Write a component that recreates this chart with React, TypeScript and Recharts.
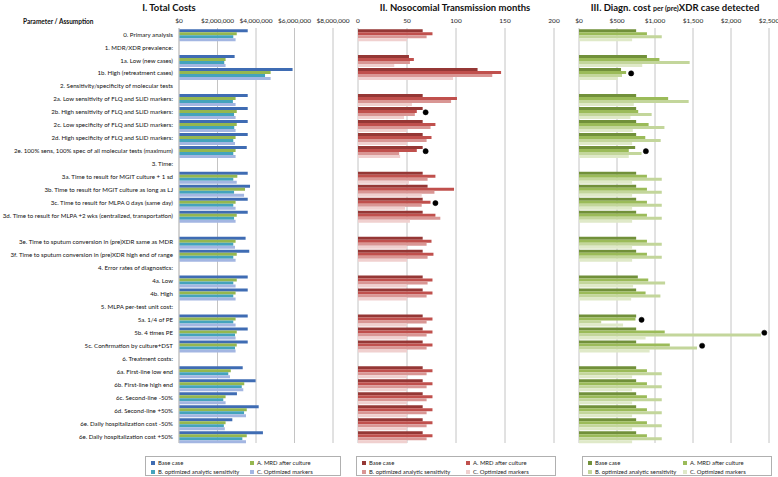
import React from 'react';
import {
  Bar,
  CartesianGrid,
  ComposedChart,
  Line,
  XAxis,
  YAxis} from 'recharts';

const rowLabels = [
  '0. Primary analysis',
  '1. MDR/XDR  prevalence:',
  '1a. Low (new cases)',
  '1b. High (retreatment cases)',
  '2. Sensitivity/specificity of molecular tests',
  '2a. Low sensitivity of FLQ and SLID markers:',
  '2b. High sensitivity of FLQ and SLID markers:',
  '2c. Low specificity of FLQ and SLID markers:',
  '2d. High specificity of FLQ and SLID markers:',
  '2e. 100% sens, 100% spec of all molecular tests (maximum)',
  '3. Time:',
  '3a. Time to result for MGIT culture + 1 sd',
  '3b. Time to result for MGIT culture as long as LJ',
  '3c. Time to result for MLPA 0 days (same day)',
  '3d. Time to result for MLPA +2 wks (centralized, transportation)',
  '',
  '3e. Time to sputum conversion in (pre)XDR same as MDR',
  '3f. Time to sputum conversion in (pre)XDR high end of range',
  '4. Error rates of diagnostics:',
  '4a. Low',
  '4b. High',
  '5. MLPA per-test unit cost:',
  '5a. 1/4 of PE',
  '5b. 4 times PE',
  '5c. Confirmation by culture+DST',
  '6. Treatment costs:',
  '6a. First-line low end',
  '6b. First-line high end',
  '6c. Second-line  -50%',
  '6d. Second-line  +50%',
  '6e. Daily hospitalization cost -50%',
  '6e. Daily hospitalization cost +50%',
];

const seriesNames = [
  'Base case',
  'A. MRD after culture',
  'B. optimized analytic sensitivity',
  'C. Optimized markers',
];

// I. Total costs ($)
const costBase = [3570000, null, 2890000, 5900000, null, 3570000, 3570000, 3570000, 3570000, 3520000, null, 3570000, 3690000, 3570000, 3570000, null, 3460000, 3650000, null, 3570000, 3570000, null, 3570000, 3570000, 3570000, null, 3310000, 3980000, 3010000, 4140000, 2770000, 4360000];
const costA = [3000000, null, 2420000, 4760000, null, 2940000, 3000000, 3000000, 2940000, 2940000, null, 3030000, 3430000, 2940000, 3000000, null, 2940000, 3000000, null, 3000000, 2940000, null, 2940000, 3000000, 3000000, null, 2690000, 3390000, 2420000, 3520000, 2420000, 3520000];
const costB = [2820000, null, 2350000, 4470000, null, 2800000, 2860000, 2870000, 2820000, 2820000, null, 2820000, 2860000, 2820000, 2860000, null, 2820000, 2820000, null, 2820000, 2820000, null, 2820000, 2910000, 2910000, null, 2560000, 3260000, 2300000, 3380000, 2330000, 3290000];
const costC = [2940000, null, 2420000, 4760000, null, 2940000, 2940000, 2940000, 2910000, 2940000, null, 3000000, 3380000, 2940000, 2940000, null, 2910000, 2940000, null, 2940000, 2940000, null, 2940000, 2940000, 2940000, null, 2650000, 3340000, 2420000, 3480000, 2380000, 3480000];

// II. Nosocomial transmission months
const nosoBase = [66, null, 52, 122, null, 66, 66, 66, 66, 66, null, 66, 71, 66, 66, null, 66, 66, null, 66, 66, null, 66, 66, 66, null, 66, 66, 66, 66, 66, 66];
const nosoA = [76, null, 57, 146, null, 101, 60, 79, 75, 60, null, 79, 98, 74, 79, null, 75, 77, null, 76, 76, null, 76, 76, 76, null, 76, 76, 76, 76, 76, 76];
const nosoB = [70, null, 53, 137, null, 95, 58, 74, 70, 42, null, 71, 78, 65, 84, null, 70, 71, null, 71, 70, null, 70, 70, 70, null, 70, 70, 70, 70, 70, 70];
const nosoC = [50, null, 37, 97, null, 55, 47, 50, 50, 43, null, 52, 65, 48, 53, null, 50, 50, null, 50, 50, null, 50, 50, 50, null, 50, 50, 50, 50, 50, 50];
const nosoDot = [null, null, null, null, null, null, 69, null, null, 69, null, null, null, 79, null, null, null, null, null, null, null, null, null, null, null, null, null, null, null, null, null, null];

// III. Diagnostic cost per (pre)XDR case detected ($)
const diagBase = [752, null, 894, 553, null, 752, 752, 752, 752, 739, null, 752, 752, 752, 752, null, 752, 752, null, 774, 752, null, 752, 752, 752, null, 752, 752, 752, 752, 752, 752];
const diagA = [894, null, 1058, 620, null, 1173, 779, 916, 872, 655, null, 894, 894, 894, 894, null, 894, 894, null, 911, 876, null, 743, 1128, 1195, null, 894, 894, 894, 894, 894, 894];
const diagB = [1089, null, 1456, 566, null, 1443, 956, 1124, 1075, 823, null, 1089, 1089, 1089, 1089, null, 1089, 1089, null, 1133, 1071, null, 292, 2394, 1553, null, 1089, 1089, 1089, 1089, 1089, 1089];
const diagC = [699, null, 832, 509, null, 721, 677, 708, 699, 655, null, 699, 699, 699, 699, null, 699, 699, null, 712, 686, null, 580, 876, 929, null, 699, 699, 699, 699, 699, 699];
const diagDot = [null, null, null, 686, null, null, null, null, null, 880, null, null, null, null, null, null, null, null, null, null, null, null, 823, 2438, 1620, null, null, null, null, null, null, null];

const costTicks = [0, 2000000, 4000000, 6000000, 8000000];
const nosoTicks = [0, 50, 100, 150, 200];
const diagTicks = [0, 500, 1000, 1500, 2000, 2500];

const FONT = 'Lato, "Liberation Sans", sans-serif';
const GRID = '#c4c4c4';

const makeRows = (s: (number | null)[][], dots?: (number | null)[]) =>
  rowLabels.map((label, i) => ({
    label,
    s0: s[0][i],
    s1: s[1][i],
    s2: s[2][i],
    s3: s[3][i],
    dot: dots ? dots[i] : null,
  }));

const dollars = (v: number) => '$' + v.toLocaleString('en-US');

// plain single-line row label (recharts would wrap it otherwise)
const RowTick = (props: any) => {
  const { x, y, payload } = props;
  return (
    <text x={x} y={y} dy={2.1} textAnchor="end" fontSize={6.15} fill="#111" fontFamily={FONT}>
      {payload.value}
    </text>
  );
};

interface PanelProps {
  rows: ReturnType<typeof makeRows>;
  colors: string[];
  ticks: number[];
  fmt: (v: number) => string;
  width: number;
  left: number;
  margin: { left: number; right: number };
  showLabels?: boolean;
  hasDots?: boolean;
}

const Panel: React.FC<PanelProps> = ({ rows, colors, ticks, fmt, width, left, margin, showLabels, hasDots }) => (
  <div style={{ position: 'absolute', left, top: 0 }}>
    <ComposedChart
      width={width}
      height={450}
      data={rows}
      layout="vertical"
      margin={{ top: 14, bottom: 7, left: margin.left, right: margin.right }}
      barCategoryGap="9%"
      barGap={0}
    >
      <CartesianGrid horizontal={false} stroke={GRID} strokeWidth={1} />
      <XAxis
        type="number"
        orientation="top"
        domain={[ticks[0], ticks[ticks.length - 1]]}
        ticks={ticks}
        tickFormatter={fmt}
        axisLine={false}
        tickLine={false}
        tickSize={0}
        tickMargin={5}
        height={14}
        interval={0}
        tick={{ fontSize: 6.5, fill: '#222', fontFamily: FONT }}
      />
      <YAxis
        type="category"
        dataKey="label"
        hide={!showLabels}
        width={showLabels ? 179 : 0}
        interval={0}
        tickLine={false}
        tickSize={0}
        tickMargin={6}
        axisLine={{ stroke: GRID }}
        tick={<RowTick />}
      />
      {['s0', 's1', 's2', 's3'].map((k, i) => (
        <Bar key={k} dataKey={k} name={seriesNames[i]} fill={colors[i]} isAnimationActive={false} />
      ))}
      {hasDots && (
        <Line
          dataKey="dot"
          stroke="none"
          dot={{ r: 2.6, fill: '#000', stroke: '#000', strokeWidth: 0.5 }}
          isAnimationActive={false}
          legendType="none"
        />
      )}
    </ComposedChart>
  </div>
);

const LegendBox: React.FC<{ left: number; width: number; colors: string[]; col2: number }> = ({ left, width, colors, col2 }) => (
  <div
    style={{
      position: 'absolute',
      left,
      top: 456,
      width,
      height: 20,
      border: '1px solid #b0b0b0',
      boxSizing: 'border-box',
      fontFamily: FONT,
      fontSize: 5.9,
      color: '#222',
    }}
  >
    {seriesNames.map((n, i) => (
      <div
        key={n}
        style={{
          position: 'absolute',
          left: i % 2 === 0 ? 5 : col2,
          top: i < 2 ? 2 : 11,
          whiteSpace: 'nowrap',
          lineHeight: '7px',
          height: 7,
          display: 'flex',
          alignItems: 'center',
        }}
      >
        <span style={{ display: 'inline-block', width: 4, height: 4, background: colors[i], marginRight: 3 }} />
        {n}
      </div>
    ))}
  </div>
);

const titleStyle: React.CSSProperties = {
  position: 'absolute',
  top: 2,
  fontFamily: FONT,
  fontWeight: 700,
  fontSize: 9.5,
  lineHeight: '12px',
  color: '#111',
  transform: 'translateX(-50%)',
  whiteSpace: 'nowrap',
};

export default function App() {
  const costColors = ['#3f6cb3', '#95b74f', '#44a3bd', '#a3b6e2'];
  const nosoColors = ['#953735', '#c0504d', '#d99694', '#f0d0cf'];
  const diagColors = ['#71903a', '#9bbb59', '#c3d69b', '#dfe9c8'];

  const costRows = makeRows([costBase, costA, costB, costC]);
  const nosoRows = makeRows([nosoBase, nosoA, nosoB, nosoC], nosoDot);
  const diagRows = makeRows([diagBase, diagA, diagB, diagC], diagDot);

  return (
    <div style={{ position: 'absolute', left: 0, top: 0, width: 778, height: 477, overflow: 'hidden', background: '#fff' }}>
      <div style={{ ...titleStyle, left: 169 }}>I. Total Costs</div>
      <div style={{ ...titleStyle, left: 455 }}>II. Nosocomial Transmission months</div>
      <div style={{ ...titleStyle, left: 675 }}>
        III. Diagn. cost <span style={{ fontSize: 7 }}>per (pre)</span>XDR case detected
      </div>
      <div
        style={{
          position: 'absolute',
          left: 23,
          top: 18,
          fontFamily: FONT,
          fontWeight: 700,
          fontSize: 6.5,
          lineHeight: '8px',
          color: '#111',
        }}
      >
        Parameter / Assumption
      </div>

      <Panel
        rows={costRows}
        colors={costColors}
        ticks={costTicks}
        fmt={dollars}
        width={360}
        left={0}
        margin={{ left: 0, right: 27 }}
        showLabels
      />
      <Panel
        rows={nosoRows}
        colors={nosoColors}
        ticks={nosoTicks}
        fmt={(v) => String(v)}
        width={230}
        left={345}
        margin={{ left: 13, right: 21 }}
        hasDots
      />
      <Panel
        rows={diagRows}
        colors={diagColors}
        ticks={diagTicks}
        fmt={dollars}
        width={213}
        left={565}
        margin={{ left: 14, right: 9 }}
        hasDots
      />

      <LegendBox left={145} width={196} colors={costColors} col2={104} />
      <LegendBox left={356} width={200} colors={nosoColors} col2={109} />
      <LegendBox left={582} width={190} colors={diagColors} col2={100} />
    </div>
  );
}
